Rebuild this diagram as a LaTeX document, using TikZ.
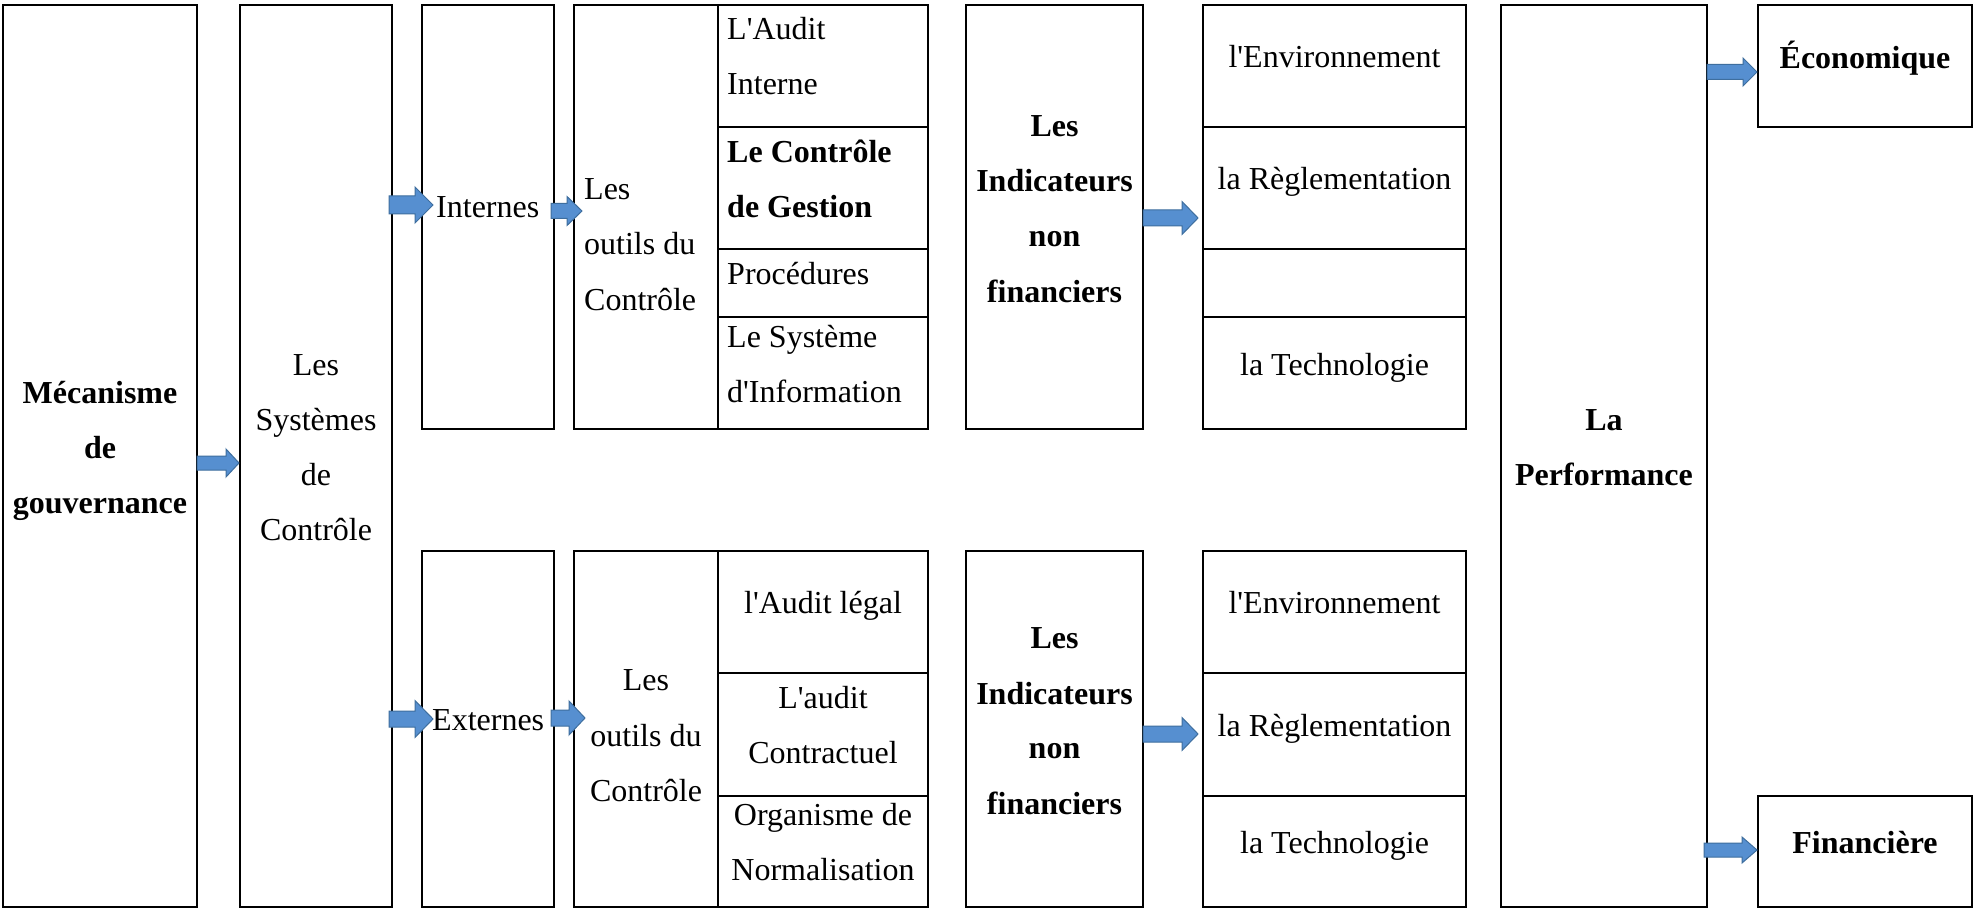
\documentclass[tikz,border=0pt]{standalone}
\usepackage{fontspec}
\setmainfont{Liberation Serif}
\usetikzlibrary{calc}

\definecolor{arrowfill}{RGB}{86,143,208}
\definecolor{arrowline}{RGB}{62,110,158}

\tikzset{
  cellbox/.style={draw=black, line width=1.8pt, inner sep=0pt, outer sep=0pt},
  lbl/.style={inner sep=0pt, anchor=base, font=\fontsize{32}{38}\selectfont},
  lblw/.style={lbl, anchor=base west},
  lblb/.style={lbl, font=\fontsize{32}{38}\selectfont\bfseries},
  lblbw/.style={lblb, anchor=base west},
  blockarrow/.style={fill=arrowfill, draw=arrowline, line width=1pt, line join=miter},
}

% a framed cell given by its corners (x1,y1) and (x2,y2)
\newcommand\cellat[5]{%
  \node[cellbox, minimum width={(#4-#2)*1pt}, minimum height={(#5-#3)*1pt}]
    (#1) at ({(#2+#4)/2},{(#3+#5)/2}) {};}

% a block arrow from #1 (tail) to #2 (tip): head length #3, head half-height #4, shaft half-height #5
\newcommand\fatarrow[5]{%
  \draw[blockarrow] ($(#1)+(0,#5)$) -- ($(#2)+(-#3,#5)$) -- ($(#2)+(-#3,#4)$) -- (#2)
    -- ($(#2)+(-#3,-#4)$) -- ($(#2)+(-#3,-#5)$) -- ($(#1)+(0,-#5)$) -- cycle;}

\newcommand\q{\textquotesingle}

\begin{document}
\begin{tikzpicture}[x=1pt,y=-1pt]
\useasboundingbox[fill=white] (0,0) rectangle (1975,909);

% ---- frames ----
\cellat{mec}{3}{5}{197}{907}
\cellat{sys}{240}{5}{392}{907}
\cellat{int}{422}{5}{554}{429}
\cellat{ext}{422}{551}{554}{907}

\cellat{outT}{574}{5}{718}{429}
\cellat{outT1}{718}{5}{928}{127}
\cellat{outT2}{718}{127}{928}{249}
\cellat{outT3}{718}{249}{928}{317}
\cellat{outT4}{718}{317}{928}{429}

\cellat{outB}{574}{551}{718}{907}
\cellat{outB1}{718}{551}{928}{673}
\cellat{outB2}{718}{673}{928}{796}
\cellat{outB3}{718}{796}{928}{907}

\cellat{indT}{966}{5}{1143}{429}
\cellat{indB}{966}{551}{1143}{907}

\cellat{envT1}{1203}{5}{1466}{127}
\cellat{envT2}{1203}{127}{1466}{249}
\cellat{envT3}{1203}{249}{1466}{317}
\cellat{envT4}{1203}{317}{1466}{429}

\cellat{envB1}{1203}{551}{1466}{673}
\cellat{envB2}{1203}{673}{1466}{796}
\cellat{envB3}{1203}{796}{1466}{907}

\cellat{perf}{1501}{5}{1707}{907}
\cellat{eco}{1758}{5}{1972}{127}
\cellat{fin}{1758}{796}{1972}{907}

% ---- labels ----
\node[lblb] (mecA) at (100,403) {Mécanisme};
\node[lblb] (mecB) at (100,458) {de};
\node[lblb] (mecC) at (100,513) {gouvernance};

\node[lbl] (sysA) at (316,375) {Les};
\node[lbl] (sysB) at (316,430) {Systèmes};
\node[lbl] (sysC) at (316,485) {de};
\node[lbl] (sysD) at (316,540) {Contrôle};

\node[lblw] (intL) at (436,218) {Internes};
\node[lblw] (extL) at (432,730) {Externes};

\node[lblw] (otA) at (584,200) {Les};
\node[lblw] (otB) at (584,255) {outils du};
\node[lblw] (otC) at (584,310) {Contrôle};

\node[lblw]  (itA) at (727,40)  {L\q Audit};
\node[lblw]  (itB) at (727,95)  {Interne};
\node[lblbw] (itC) at (727,163) {Le Contrôle};
\node[lblbw] (itD) at (727,218) {de Gestion};
\node[lblw]  (itE) at (727,285) {Procédures};
\node[lblw]  (itF) at (727,347) {Le Système};
\node[lblw]  (itG) at (727,402) {d\q Information};

\node[lblb] (inTA) at (1054.5,137) {Les};
\node[lblb] (inTB) at (1054.5,192) {Indicateurs};
\node[lblb] (inTC) at (1054.5,247) {non};
\node[lblb] (inTD) at (1054.5,302) {financiers};

\node[lbl] (evTA) at (1334.5,68)  {l\q Environnement};
\node[lbl] (evTB) at (1334.5,190) {la Règlementation};
\node[lbl] (evTC) at (1334.5,375) {la Technologie};

\node[lbl] (obA) at (646,690) {Les};
\node[lbl] (obB) at (646,746) {outils du};
\node[lbl] (obC) at (646,801) {Contrôle};

\node[lbl] (ibA) at (823,613) {l\q Audit légal};
\node[lbl] (ibB) at (823,708) {L\q audit};
\node[lbl] (ibC) at (823,763) {Contractuel};
\node[lbl] (ibD) at (823,825) {Organisme de};
\node[lbl] (ibE) at (823,880) {Normalisation};

\node[lblb] (inBA) at (1054.5,648) {Les};
\node[lblb] (inBB) at (1054.5,704) {Indicateurs};
\node[lblb] (inBC) at (1054.5,758) {non};
\node[lblb] (inBD) at (1054.5,814) {financiers};

\node[lbl] (evBA) at (1334.5,613) {l\q Environnement};
\node[lbl] (evBB) at (1334.5,736) {la Règlementation};
\node[lbl] (evBC) at (1334.5,853) {la Technologie};

\node[lblb] (pfA) at (1604,430) {La};
\node[lblb] (pfB) at (1604,485) {Performance};

\node[lblb] (ecoL) at (1865,69)  {Économique};
\node[lblb] (finL) at (1865,853) {Financière};

% ---- arrows ----
\coordinate (a1t) at (197,463);  \coordinate (a1h) at (239,463);
\coordinate (a2t) at (389,205);  \coordinate (a2h) at (433,205);
\coordinate (a3t) at (551,211);  \coordinate (a3h) at (582,211);
\coordinate (a4t) at (389,719);  \coordinate (a4h) at (433,719);
\coordinate (a5t) at (551,718);  \coordinate (a5h) at (585,718);
\coordinate (a6t) at (1143,218); \coordinate (a6h) at (1198,218);
\coordinate (a7t) at (1143,734); \coordinate (a7h) at (1198,734);
\coordinate (a8t) at (1707,72);  \coordinate (a8h) at (1757,72);
\coordinate (a9t) at (1704,850); \coordinate (a9h) at (1757,850);

\fatarrow{a1t}{a1h}{13}{14}{7}
\fatarrow{a2t}{a2h}{18}{18}{9}
\fatarrow{a3t}{a3h}{15}{14.5}{7.5}
\fatarrow{a4t}{a4h}{18}{18.5}{8}
\fatarrow{a5t}{a5h}{16}{17}{8}
\fatarrow{a6t}{a6h}{16}{16.5}{8}
\fatarrow{a7t}{a7h}{16}{16.5}{8}
\fatarrow{a8t}{a8h}{14}{14}{7.5}
\fatarrow{a9t}{a9h}{15}{13}{7}
\end{tikzpicture}
\end{document}
